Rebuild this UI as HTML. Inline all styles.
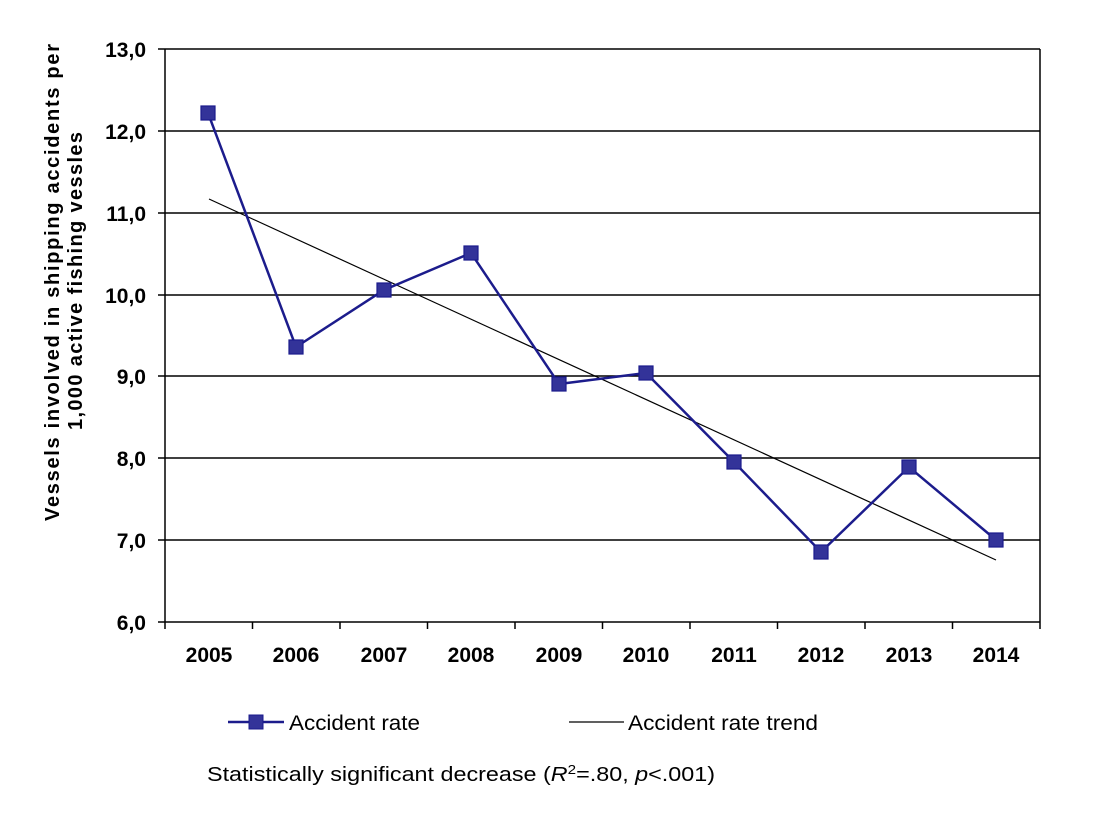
<!DOCTYPE html>
<html><head><meta charset="utf-8"><style>
body{margin:0;background:#fff;}
svg text{font-family:"Liberation Sans",Arial,sans-serif;}
</style></head><body>
<svg width="1100" height="811" viewBox="0 0 1100 811" xmlns="http://www.w3.org/2000/svg">
<g stroke="#000" stroke-width="1.5">
<line x1="158" y1="49" x2="1040" y2="49"/>
<line x1="158" y1="131" x2="1040" y2="131"/>
<line x1="158" y1="213" x2="1040" y2="213"/>
<line x1="158" y1="295" x2="1040" y2="295"/>
<line x1="158" y1="376" x2="1040" y2="376"/>
<line x1="158" y1="458" x2="1040" y2="458"/>
<line x1="158" y1="540" x2="1040" y2="540"/>
<line x1="158" y1="622" x2="1040" y2="622"/>
<line x1="165" y1="49" x2="165" y2="629"/>
<line x1="1040" y1="49" x2="1040" y2="629"/>
<line x1="252.5" y1="622" x2="252.5" y2="629"/>
<line x1="340" y1="622" x2="340" y2="629"/>
<line x1="427.5" y1="622" x2="427.5" y2="629"/>
<line x1="515" y1="622" x2="515" y2="629"/>
<line x1="602.5" y1="622" x2="602.5" y2="629"/>
<line x1="690" y1="622" x2="690" y2="629"/>
<line x1="777.5" y1="622" x2="777.5" y2="629"/>
<line x1="865" y1="622" x2="865" y2="629"/>
<line x1="952.5" y1="622" x2="952.5" y2="629"/>
</g>
<g font-size="21" font-weight="bold" text-anchor="end">
<text x="146" y="57">13,0</text><text x="146" y="139">12,0</text><text x="146" y="221">11,0</text>
<text x="146" y="303">10,0</text><text x="146" y="384">9,0</text><text x="146" y="466">8,0</text>
<text x="146" y="548">7,0</text><text x="146" y="630">6,0</text>
</g>
<g font-size="21" font-weight="bold" text-anchor="middle">
<text x="209" y="662">2005</text><text x="296" y="662">2006</text><text x="384" y="662">2007</text>
<text x="471" y="662">2008</text><text x="559" y="662">2009</text><text x="646" y="662">2010</text>
<text x="734" y="662">2011</text><text x="821" y="662">2012</text><text x="909" y="662">2013</text>
<text x="996" y="662">2014</text>
</g>
<g font-size="20" font-weight="bold">
<text transform="translate(59,521) rotate(-90)" textLength="477" lengthAdjust="spacing">Vessels involved in shipping accidents per</text>
<text transform="translate(82,430) rotate(-90)" textLength="298" lengthAdjust="spacing">1,000 active fishing vessles</text>
</g>
<line x1="209" y1="199" x2="996" y2="560" stroke="#000" stroke-width="1.2"/>
<polyline fill="none" stroke="#1c1c8c" stroke-width="2.5" points="208,113 296,347 384,290 471,253 559,384 646,373 734,462 821,552 909,467 996,540"/>
<g fill="#333399" stroke="#1a1a8c" stroke-width="1.2">
<rect x="201" y="106" width="14" height="14"/><rect x="289" y="340" width="14" height="14"/>
<rect x="377" y="283" width="14" height="14"/><rect x="464" y="246" width="14" height="14"/>
<rect x="552" y="377" width="14" height="14"/><rect x="639" y="366" width="14" height="14"/>
<rect x="727" y="455" width="14" height="14"/><rect x="814" y="545" width="14" height="14"/>
<rect x="902" y="460" width="14" height="14"/><rect x="989" y="533" width="14" height="14"/>
</g>
<line x1="228" y1="722" x2="284" y2="722" stroke="#1c1c8c" stroke-width="2.5"/>
<rect x="249" y="715" width="14" height="14" fill="#333399" stroke="#1a1a8c"/>
<text x="289" y="730" font-size="21" textLength="131" lengthAdjust="spacingAndGlyphs">Accident rate</text>
<line x1="569" y1="722" x2="624" y2="722" stroke="#000" stroke-width="1.2"/>
<text x="628" y="730" font-size="21" textLength="190" lengthAdjust="spacingAndGlyphs">Accident rate trend</text>
<text x="207" y="781" font-size="20" textLength="508" lengthAdjust="spacingAndGlyphs">Statistically significant decrease (<tspan font-style="italic">R</tspan><tspan font-size="13" dy="-7">2</tspan><tspan dy="7">=.80, </tspan><tspan font-style="italic">p</tspan>&lt;.001)</text>
</svg>
</body></html>
